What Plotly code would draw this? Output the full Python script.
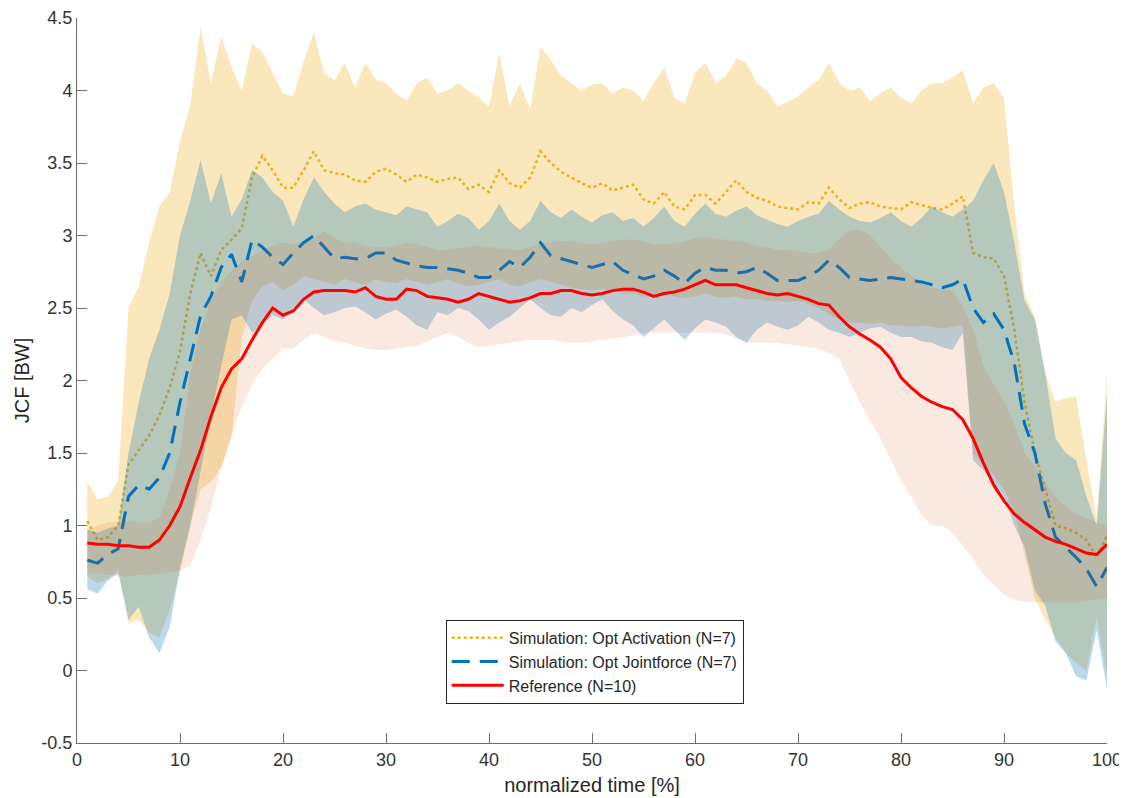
import plotly.graph_objects as go

# normalized time [%]
t = list(range(1, 101))

# Simulation: Opt Activation (mean, upper, lower)
act_mean = [1.03, 0.90, 0.92, 1.00, 1.42, 1.52, 1.62, 1.76, 1.95, 2.20,
            2.60, 2.88, 2.72, 2.90, 2.97, 3.05, 3.40, 3.55, 3.45, 3.33,
            3.33, 3.45, 3.58, 3.45, 3.43, 3.42, 3.38, 3.37, 3.44, 3.46,
            3.42, 3.37, 3.42, 3.40, 3.37, 3.39, 3.40, 3.32, 3.35, 3.30,
            3.45, 3.36, 3.33, 3.40, 3.58, 3.50, 3.44, 3.40, 3.36, 3.33,
            3.36, 3.31, 3.33, 3.35, 3.25, 3.22, 3.30, 3.20, 3.18, 3.28,
            3.28, 3.22, 3.30, 3.38, 3.30, 3.26, 3.24, 3.20, 3.19, 3.18,
            3.23, 3.22, 3.33, 3.25, 3.19, 3.22, 3.23, 3.20, 3.19, 3.18,
            3.23, 3.21, 3.19, 3.18, 3.22, 3.27, 2.88, 2.85, 2.84, 2.72,
            2.35, 1.85, 1.50, 1.25, 1.00, 0.98, 0.95, 0.90, 0.78, 0.93]
act_hi = [1.30, 1.18, 1.20, 1.31, 2.50, 2.65, 2.95, 3.20, 3.30, 3.65,
          3.90, 4.44, 4.05, 4.37, 4.16, 4.00, 4.33, 4.26, 4.12, 3.98,
          3.96, 4.20, 4.40, 4.12, 4.07, 4.19, 4.02, 4.19, 4.08, 4.05,
          3.98, 3.93, 4.05, 4.09, 3.98, 4.00, 4.05, 4.00, 3.95, 3.89,
          4.26, 3.89, 4.05, 3.87, 4.30, 4.21, 4.10, 4.05, 4.00, 4.04,
          4.05, 3.98, 4.02, 4.00, 3.93, 4.05, 4.16, 3.95, 3.91, 4.12,
          4.19, 4.05, 4.10, 4.22, 4.19, 4.05, 4.00, 3.89, 3.92, 3.96,
          4.02, 4.07, 4.19, 4.05, 4.00, 4.02, 3.93, 3.98, 4.02, 3.95,
          3.91, 4.00, 4.05, 4.05, 4.09, 4.14, 3.91, 4.02, 4.05, 3.95,
          3.20, 2.60, 2.44, 2.05, 1.85, 1.88, 1.89, 1.45, 1.05, 2.05]
act_lo = [0.65, 0.60, 0.63, 0.70, 0.33, 0.35, 0.26, 0.23, 0.42, 0.67,
          1.00, 1.25, 1.30, 1.40, 1.60, 2.30, 2.55, 2.65, 2.68, 2.62,
          2.66, 2.72, 2.70, 2.68, 2.66, 2.70, 2.68, 2.66, 2.70, 2.68,
          2.67, 2.70, 2.68, 2.66, 2.68, 2.70, 2.67, 2.65, 2.66, 2.68,
          2.70, 2.66, 2.65, 2.68, 2.70, 2.68, 2.66, 2.64, 2.63, 2.62,
          2.63, 2.62, 2.60, 2.60, 2.58, 2.58, 2.60, 2.58, 2.57, 2.58,
          2.60, 2.58, 2.57, 2.58, 2.56, 2.56, 2.55, 2.55, 2.54, 2.55,
          2.53, 2.50, 2.46, 2.42, 2.40, 2.40, 2.39, 2.40, 2.38, 2.38,
          2.37, 2.38, 2.37, 2.36, 2.37, 2.38, 1.50, 1.42, 1.35, 1.25,
          1.10, 0.80, 0.50, 0.35, 0.23, 0.12, 0.05, 0.00, 0.37, -0.04]

# Simulation: Opt Jointforce (mean, upper, lower)
jf_mean = [0.76, 0.74, 0.80, 0.84, 1.20, 1.28, 1.25, 1.33, 1.50, 1.85,
           2.15, 2.45, 2.58, 2.78, 2.87, 2.68, 2.97, 2.92, 2.85, 2.80,
           2.88, 2.95, 3.00, 2.92, 2.84, 2.85, 2.84, 2.84, 2.88, 2.88,
           2.83, 2.81, 2.79, 2.78, 2.78, 2.77, 2.76, 2.74, 2.71, 2.71,
           2.76, 2.82, 2.78, 2.85, 2.95, 2.86, 2.84, 2.82, 2.80, 2.78,
           2.80, 2.82, 2.76, 2.73, 2.70, 2.72, 2.76, 2.72, 2.67, 2.74,
           2.78, 2.76, 2.76, 2.74, 2.75, 2.78, 2.74, 2.69, 2.69, 2.69,
           2.72, 2.76, 2.83, 2.78, 2.71, 2.70, 2.69, 2.70, 2.71, 2.70,
           2.69, 2.68, 2.66, 2.64, 2.66, 2.70, 2.50, 2.40, 2.46, 2.35,
           2.12, 1.70, 1.50, 1.15, 0.92, 0.85, 0.78, 0.70, 0.58, 0.71]
jf_hi = [0.97, 0.95, 0.98, 1.00, 1.50, 1.85, 2.15, 2.35, 2.60, 3.00,
         3.24, 3.52, 3.22, 3.43, 3.13, 3.25, 3.45, 3.40, 3.30, 3.24,
         3.06, 3.25, 3.40, 3.30, 3.22, 3.16, 3.20, 3.22, 3.18, 3.16,
         3.14, 3.20, 3.18, 3.16, 3.06, 3.10, 3.15, 3.12, 3.04, 3.10,
         3.22, 3.10, 3.04, 3.10, 3.24, 3.16, 3.12, 3.18, 3.13, 3.09,
         3.14, 3.16, 3.10, 3.12, 3.06, 3.12, 3.20, 3.10, 3.06, 3.15,
         3.22, 3.15, 3.13, 3.17, 3.20, 3.14, 3.11, 3.08, 3.06, 3.10,
         3.13, 3.15, 3.24, 3.18, 3.13, 3.10, 3.09, 3.12, 3.16, 3.10,
         3.06, 3.12, 3.20, 3.16, 3.13, 3.18, 3.24, 3.38, 3.50, 3.30,
         2.95, 2.55, 2.42, 2.05, 1.60, 1.50, 1.45, 1.20, 1.00, 1.90]
jf_lo = [0.56, 0.53, 0.62, 0.67, 0.35, 0.44, 0.23, 0.12, 0.30, 0.71,
         1.00, 1.38, 1.75, 2.10, 2.42, 2.45, 2.33, 2.38, 2.45, 2.42,
         2.50, 2.56, 2.50, 2.45, 2.47, 2.50, 2.51, 2.47, 2.42, 2.46,
         2.49, 2.44, 2.38, 2.35, 2.47, 2.45, 2.50, 2.48, 2.42, 2.35,
         2.40, 2.44, 2.50, 2.56, 2.50, 2.45, 2.44, 2.50, 2.47, 2.52,
         2.56, 2.48, 2.42, 2.38, 2.30, 2.36, 2.42, 2.35, 2.28, 2.36,
         2.42, 2.40, 2.37, 2.30, 2.26, 2.35, 2.40, 2.37, 2.35, 2.38,
         2.44, 2.40, 2.35, 2.33, 2.30, 2.33, 2.36, 2.37, 2.33, 2.30,
         2.30, 2.27, 2.26, 2.23, 2.21, 2.33, 1.45, 1.38, 1.30, 1.20,
         1.00, 0.85, 0.55, 0.45, 0.20, 0.12, -0.04, -0.07, 0.28, -0.13]

# Reference (mean, upper, lower)
ref_mean = [0.88, 0.87, 0.87, 0.86, 0.86, 0.85, 0.85, 0.90, 1.00, 1.13,
            1.33, 1.52, 1.75, 1.95, 2.08, 2.15, 2.28, 2.40, 2.50, 2.45,
            2.48, 2.56, 2.61, 2.62, 2.62, 2.62, 2.61, 2.64, 2.58, 2.56,
            2.56, 2.63, 2.62, 2.58, 2.57, 2.56, 2.54, 2.56, 2.60, 2.58,
            2.56, 2.54, 2.55, 2.57, 2.60, 2.60, 2.62, 2.62, 2.60, 2.59,
            2.60, 2.62, 2.63, 2.63, 2.61, 2.58, 2.60, 2.61, 2.63, 2.66,
            2.69, 2.66, 2.66, 2.66, 2.64, 2.62, 2.60, 2.59, 2.60, 2.58,
            2.56, 2.53, 2.52, 2.44, 2.37, 2.32, 2.28, 2.23, 2.15, 2.02,
            1.95, 1.89, 1.85, 1.82, 1.80, 1.73, 1.60, 1.43, 1.28, 1.17,
            1.08, 1.02, 0.97, 0.92, 0.89, 0.87, 0.84, 0.81, 0.80, 0.87]
ref_hi = [0.97, 1.00, 1.02, 1.03, 1.03, 1.02, 1.02, 1.05, 1.25, 1.50,
          2.05, 2.35, 2.55, 2.68, 2.75, 2.82, 2.86, 2.90, 2.93, 2.95,
          2.94, 2.96, 2.98, 3.03, 2.98, 2.95, 2.95, 2.93, 2.92, 2.92,
          2.93, 2.95, 2.94, 2.92, 2.90, 2.90, 2.91, 2.92, 2.93, 2.92,
          2.91, 2.90, 2.90, 2.92, 2.94, 2.95, 2.96, 2.96, 2.95, 2.94,
          2.95, 2.96, 2.97, 2.97, 2.96, 2.94, 2.94, 2.95, 2.96, 2.98,
          2.99, 2.98, 2.97, 2.96, 2.95, 2.93, 2.92, 2.90, 2.90, 2.89,
          2.88, 2.88, 2.90, 2.98, 3.03, 3.04, 3.00, 2.92, 2.84, 2.78,
          2.72, 2.67, 2.64, 2.63, 2.62, 2.51, 2.35, 2.10, 1.98, 1.85,
          1.70, 1.50, 1.40, 1.30, 1.20, 1.13, 1.08, 1.05, 1.02, 1.00]
ref_lo = [0.67, 0.67, 0.66, 0.65, 0.65, 0.66, 0.66, 0.67, 0.68, 0.69,
          0.72, 0.90, 1.12, 1.40, 1.62, 1.82, 1.97, 2.08, 2.15, 2.22,
          2.22, 2.28, 2.33, 2.30, 2.27, 2.26, 2.24, 2.22, 2.21, 2.21,
          2.22, 2.23, 2.24, 2.27, 2.30, 2.33, 2.30, 2.26, 2.23, 2.24,
          2.25, 2.26, 2.27, 2.28, 2.28, 2.28, 2.27, 2.26, 2.26, 2.27,
          2.28, 2.29, 2.30, 2.31, 2.33, 2.33, 2.33, 2.33, 2.33, 2.33,
          2.33, 2.33, 2.32, 2.29, 2.26, 2.26, 2.26, 2.26, 2.25, 2.24,
          2.23, 2.22, 2.19, 2.15, 2.00, 1.85, 1.72, 1.60, 1.45, 1.31,
          1.20, 1.07, 1.00, 1.00, 0.95, 0.86, 0.77, 0.66, 0.59, 0.52,
          0.49, 0.47, 0.47, 0.47, 0.47, 0.47, 0.47, 0.48, 0.49, 0.50]

x_ticks = [0, 10, 20, 30, 40, 50, 60, 70, 80, 90, 100]
y_ticks = [-0.5, 0, 0.5, 1, 1.5, 2, 2.5, 3, 3.5, 4, 4.5]
y_tick_text = ["-0.5", "0", "0.5", "1", "1.5", "2", "2.5", "3", "3.5", "4", "4.5"]

series = [
    ("Simulation: Opt Activation (N=7)", act_mean, act_hi, act_lo,
     "#EDB120", "rgba(237,177,32,0.30)", "dot", 2.5),
    ("Simulation: Opt Jointforce (N=7)", jf_mean, jf_hi, jf_lo,
     "#0072BD", "rgba(0,114,189,0.27)", "18px,10px", 3),
    ("Reference (N=10)", ref_mean, ref_hi, ref_lo,
     "#FF0000", "rgba(217,83,25,0.13)", "solid", 3),
]

FONT = "Liberation Sans, Arial, Helvetica, sans-serif"

fig = go.Figure()
for name, m, hi, lo, lc, fc, dash, lw in series:
    fig.add_trace(go.Scatter(
        x=t + t[::-1], y=hi + lo[::-1], fill="toself", fillcolor=fc,
        line=dict(width=0), mode="lines", showlegend=False, hoverinfo="skip"))
    fig.add_trace(go.Scatter(
        x=t, y=m, mode="lines", name=name,
        line=dict(color=lc, width=lw, dash=dash)))

axis_common = dict(
    showgrid=False, zeroline=False, showline=True, linecolor="#6e6e6e",
    linewidth=1, ticks="inside", ticklen=10, tickcolor="#6e6e6e",
    tickfont=dict(family=FONT, size=18, color="#333333"), mirror=False,
    automargin=False, ticklabeloverflow="allow",
)
fig.update_xaxes(range=[0, 100], tickvals=x_ticks,
                 title=dict(text="normalized time [%]",
                            font=dict(family=FONT, size=20, color="#262626"),
                            standoff=9),
                 **axis_common)
fig.update_yaxes(range=[-0.5, 4.5], tickvals=y_ticks, ticktext=y_tick_text,
                 title=dict(text="JCF [BW]",
                            font=dict(family=FONT, size=20, color="#262626"),
                            standoff=6),
                 **axis_common)

# page body has an 8px margin, so the figure is offset by 8px in the window
fig.update_layout(
    width=1119, height=790,
    margin=dict(l=69, r=20, t=10, b=55),
    plot_bgcolor="white", paper_bgcolor="white",
    font=dict(family=FONT, color="#262626"),
    legend=dict(x=0.358, y=0.17, xanchor="left", yanchor="top",
                bgcolor="white", bordercolor="#262626", borderwidth=1,
                font=dict(family=FONT, size=16, color="#262626"),
                itemwidth=52, tracegroupgap=0),
    showlegend=True,
)

fig.write_html("out.html")
